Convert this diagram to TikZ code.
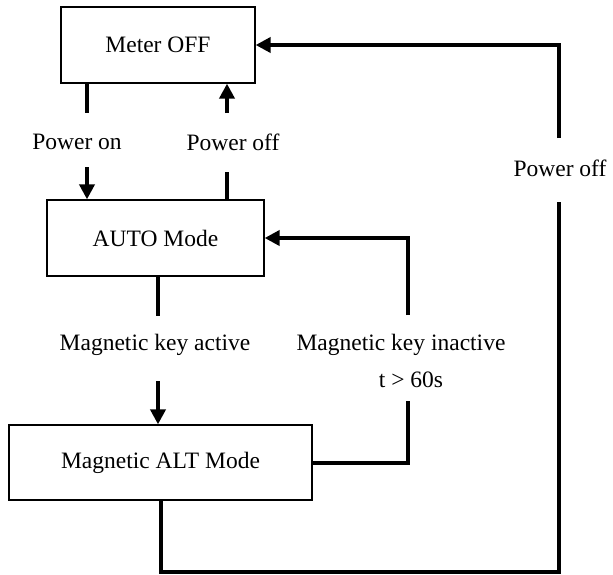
\documentclass[tikz,border=0pt]{standalone}
\usepackage{fontspec}
\setmainfont{Liberation Serif}
\usepackage{tikz}
\usetikzlibrary{arrows.meta,positioning,calc}

\begin{document}
\begin{tikzpicture}[x=1pt, y=-1pt,
    box/.style={draw, line width=1.3pt, minimum height=76pt, font=\fontsize{23.5}{28}\selectfont},
    cond/.style={inner sep=0pt, font=\fontsize{23.5}{28}\selectfont},
    line/.style={line width=4pt},
    arrow/.style={line, -{Triangle[width=15pt, length=15pt]}}]

    \useasboundingbox (0,0) rectangle (613,574);

    % states
    \node[box, minimum width=194pt] (meteroff) at (158,45) {Meter OFF};
    \node[box, minimum width=217pt] (auto) at (155.5,238) {AUTO Mode};
    \node[box, minimum width=303pt, minimum height=75pt] (alt) at (160.5,462.5) {Magnetic ALT Mode};

    % conditions
    \node[cond] (poweron) at (77,142) {Power on};
    \node[cond] (poweroff) at (233,142) {Power off};
    \node[cond] (keyon) at (155,345) {Magnetic key active};
    \node[cond] (keyoff) at (401,345) {Magnetic key inactive};
    \node[cond] (keytime) at (411,380) {t > 60s};
    \node[cond] (poweroffr) at (560,168) {Power off};

    % free ends around the condition texts
    \coordinate (ponA) at (87,113);
    \coordinate (ponB) at (87,167);
    \coordinate (poffA) at (227,172);
    \coordinate (poffB) at (227,113);
    \coordinate (keyA) at (158,316);
    \coordinate (keyB) at (158,381);
    \coordinate (inA) at (408,401);
    \coordinate (inB) at (408,315);
    \coordinate (outA) at (559,202);
    \coordinate (outB) at (559,138);
    \coordinate (outC) at (559,572);

    % transitions
    \draw[line] (meteroff.south -| ponA) -- (ponA);
    \draw[arrow] (ponB) -- (ponB |- auto.north);
    \draw[line] (auto.north -| poffA) -- (poffA);
    \draw[arrow] (poffB) -- (poffB |- meteroff.south);
    \draw[line] (auto.south -| keyA) -- (keyA);
    \draw[arrow] (keyB) -- (keyB |- alt.north);
    \draw[line] (alt.east) -| (inA);
    \draw[arrow] (inB) |- (auto.east);
    \draw[line] (alt.south) |- (outC) -- (outA);
    \draw[arrow] (outB) |- (meteroff.east);
\end{tikzpicture}
\end{document}
